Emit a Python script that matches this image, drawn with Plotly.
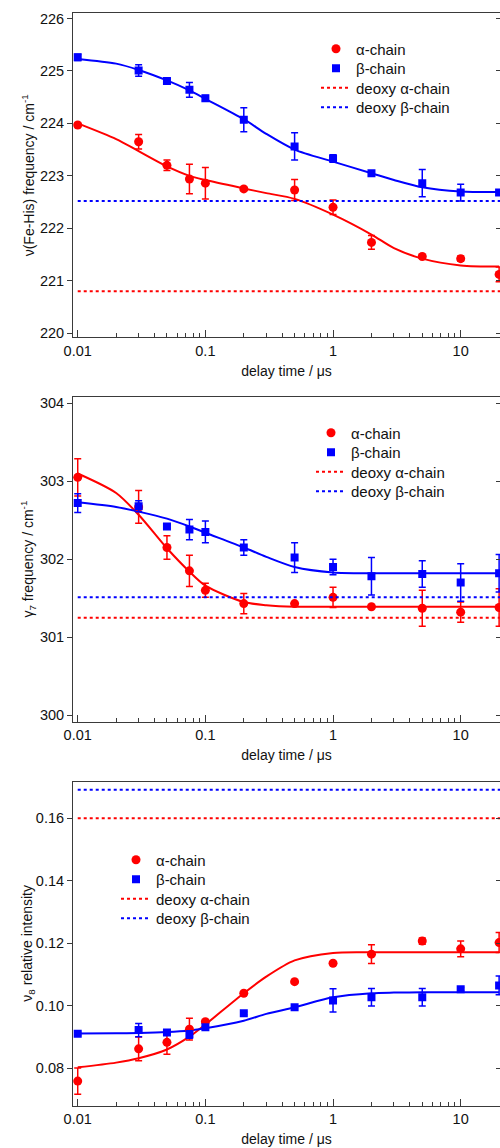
import plotly.graph_objects as go

# ---------------- data ----------------
delay = [0.01, 0.03, 0.05, 0.075, 0.1, 0.2, 0.5, 1, 2, 5, 10, 20]

# Panel 1: nu(Fe-His)
fe_alpha = [223.97, 223.65, 223.20, 222.94, 222.86, 222.75, 222.73, 222.40, 221.73, 221.46, 221.42, 221.12]
fe_alpha_err = [0.04, 0.14, 0.10, 0.28, 0.30, 0.03, 0.20, 0.14, 0.13, 0.03, 0.05, 0.14]
fe_beta = [225.26, 225.01, 224.81, 224.64, 224.48, 224.07, 223.56, 223.33, 223.05, 222.86, 222.68, 222.68]
fe_beta_err = [0.06, 0.11, 0.04, 0.14, 0.05, 0.23, 0.26, 0.07, 0.04, 0.26, 0.16, 0.05]
fe_deoxy_alpha = 220.80
fe_deoxy_beta = 222.52

fit_x = [0.01, 0.02, 0.03, 0.05, 0.075, 0.1, 0.2, 0.3, 0.5, 1, 2, 3, 5, 10, 20]
fe_fit_alpha = [224.00, 223.70, 223.47, 223.18, 223.00, 222.92, 222.76, 222.67, 222.56, 222.26, 221.88, 221.62, 221.42, 221.29, 221.27]
fe_fit_beta = [225.23, 225.14, 225.02, 224.82, 224.63, 224.47, 224.08, 223.80, 223.50, 223.27, 223.05, 222.92, 222.78, 222.70, 222.69]

# Panel 2: gamma7
g7_alpha = [303.05, 302.67, 302.15, 301.85, 301.60, 301.43, 301.43, 301.51, 301.39, 301.37, 301.32, 301.38]
g7_alpha_err = [0.24, 0.21, 0.15, 0.20, 0.09, 0.13, 0.02, 0.13, 0.02, 0.23, 0.13, 0.24]
g7_beta = [302.72, 302.68, 302.42, 302.38, 302.35, 302.15, 302.02, 301.90, 301.78, 301.81, 301.70, 301.82]
g7_beta_err = [0.12, 0.07, 0.02, 0.13, 0.14, 0.10, 0.19, 0.10, 0.24, 0.17, 0.24, 0.24]
g7_deoxy_alpha = 301.25
g7_deoxy_beta = 301.51

g7_fit_alpha = [303.10, 302.85, 302.57, 302.14, 301.84, 301.66, 301.45, 301.41, 301.39, 301.39, 301.39, 301.39, 301.39, 301.39, 301.39]
g7_fit_beta = [302.73, 302.67, 302.61, 302.52, 302.42, 302.34, 302.15, 302.03, 301.90, 301.83, 301.82, 301.82, 301.82, 301.82, 301.82]

# Panel 3: nu8 relative intensity
n8_alpha = [0.0759, 0.0862, 0.0883, 0.0925, 0.0949, 0.1040, 0.1077, 0.1136, 0.1165, 0.1207, 0.1182, 0.1202]
n8_alpha_err = [0.0042, 0.0038, 0.0038, 0.0035, 0.0005, 0.0003, 0.0003, 0.0003, 0.0030, 0.0010, 0.0025, 0.0032]
n8_beta = [0.0910, 0.0922, 0.0914, 0.0908, 0.0931, 0.0976, 0.0995, 0.1017, 0.1027, 0.1027, 0.1053, 0.1065]
n8_beta_err = [0.0005, 0.0021, 0.0005, 0.0012, 0.0005, 0.0005, 0.0005, 0.0037, 0.0028, 0.0028, 0.0005, 0.0030]
n8_deoxy_alpha = 0.1600
n8_deoxy_beta = 0.1691

n8_fit_alpha = [0.0803, 0.0818, 0.0832, 0.0860, 0.0901, 0.0940, 0.1040, 0.1093, 0.1145, 0.1169, 0.1171, 0.1171, 0.1171, 0.1171, 0.1171]
n8_fit_beta = [0.0911, 0.0912, 0.0913, 0.0916, 0.0921, 0.0928, 0.0952, 0.0974, 0.0995, 0.1027, 0.1040, 0.1042, 0.1043, 0.1043, 0.1043]

deoxy_x = [0.01, 22]

x_tickvals = [0.01, 0.1, 1, 10]
x_ticktext = ["0.01", "0.1", "1", "10"]
x_minor = [0.02, 0.03, 0.04, 0.05, 0.06, 0.07, 0.08, 0.09,
           0.2, 0.3, 0.4, 0.5, 0.6, 0.7, 0.8, 0.9,
           2, 3, 4, 5, 6, 7, 8, 9, 20]

legend_names = ["α-chain", "β-chain", "deoxy α-chain", "deoxy β-chain"]
x_title = "delay time / μs"

RED = "#FF0000"
BLUE = "#0000FF"
FONT = "Arial, Liberation Sans, sans-serif"
AX = "#3a3a3a"
W, H = 500, 1148
ML = 73

panels = [
    dict(a=fe_alpha, ae=fe_alpha_err, b=fe_beta, be=fe_beta_err, da=fe_deoxy_alpha, db=fe_deoxy_beta,
         fa=fe_fit_alpha, fb=fe_fit_beta, yrange=[219.92, 226.10], ytick=[220, 221, 222, 223, 224, 225, 226],
         ytext=["220", "221", "222", "223", "224", "225", "226"],
         ytitle="ν(Fe-His) frequency / cm<sup>-1</sup>", domain=[0.7062, 0.9884],
         leg_text_x=357, leg_rows=[49, 68.5, 88, 107.5]),
    dict(a=g7_alpha, ae=g7_alpha_err, b=g7_beta, be=g7_beta_err, da=g7_deoxy_alpha, db=g7_deoxy_beta,
         fa=g7_fit_alpha, fb=g7_fit_beta, yrange=[299.914, 304.077], ytick=[300, 301, 302, 303, 304],
         ytext=["300", "301", "302", "303", "304"],
         ytitle="γ<sub>7</sub> frequency / cm<sup>-1</sup>", domain=[0.3713, 0.6539],
         leg_text_x=352, leg_rows=[433, 452.5, 472, 491.5]),
    dict(a=n8_alpha, ae=n8_alpha_err, b=n8_beta, be=n8_beta_err, da=n8_deoxy_alpha, db=n8_deoxy_beta,
         fa=n8_fit_alpha, fb=n8_fit_beta, yrange=[0.0680, 0.1717], ytick=[0.08, 0.10, 0.12, 0.14, 0.16],
         ytext=["0.08", "0.10", "0.12", "0.14", "0.16"],
         ytitle="ν<sub>8</sub> relative intensity", domain=[0.0368, 0.3191],
         leg_text_x=157, leg_rows=[860, 879.5, 899, 918.5]),
]

fig = go.Figure()
layout = {}
annotations = []
leg_common = dict(font=dict(family=FONT, size=15, color="#111"), bgcolor="rgba(0,0,0,0)",
                  borderwidth=0, xanchor="left", yanchor="top", itemwidth=30)

for i, p in enumerate(panels):
    n = i + 1
    xa = "x" if n == 1 else f"x{n}"
    ya = "y" if n == 1 else f"y{n}"
    yr_num = n + 3
    yr = f"y{yr_num}"

    # one legend box per entry so row spacing can match the reference
    lg = []
    for k in range(4):
        idx = 4 * i + k + 1
        key = "legend" if idx == 1 else f"legend{idx}"
        lg.append(key)
        top_px = p["leg_rows"][k] - 16.5
        layout[key] = dict(x=(p["leg_text_x"] - 41 - ML) / (W - ML), y=1 - top_px / H, **leg_common)

    # deoxy reference lines (drawn on right-hand mirror axis)
    fig.add_trace(go.Scatter(x=deoxy_x, y=[p["da"], p["da"]], mode="lines", xaxis=xa, yaxis=yr,
                             line=dict(color=RED, width=2, dash="3px,3px"), name=legend_names[2],
                             legend=lg[2], hoverinfo="skip"))
    fig.add_trace(go.Scatter(x=deoxy_x, y=[p["db"], p["db"]], mode="lines", xaxis=xa, yaxis=yr,
                             line=dict(color=BLUE, width=2, dash="3px,3px"), name=legend_names[3],
                             legend=lg[3], hoverinfo="skip"))
    # fits
    fig.add_trace(go.Scatter(x=fit_x, y=p["fa"], mode="lines", xaxis=xa, yaxis=ya,
                             line=dict(color=RED, width=2, shape="spline", smoothing=0.8),
                             showlegend=False, hoverinfo="skip"))
    fig.add_trace(go.Scatter(x=fit_x, y=p["fb"], mode="lines", xaxis=xa, yaxis=ya,
                             line=dict(color=BLUE, width=2, shape="spline", smoothing=0.8),
                             showlegend=False, hoverinfo="skip"))
    # data
    fig.add_trace(go.Scatter(x=delay, y=p["a"], mode="markers", xaxis=xa, yaxis=ya, name=legend_names[0],
                             marker=dict(symbol="circle", size=9, color=RED),
                             error_y=dict(type="data", array=p["ae"], color=RED, thickness=1.5, width=3.5),
                             legend=lg[0]))
    fig.add_trace(go.Scatter(x=delay, y=p["b"], mode="markers", xaxis=xa, yaxis=ya, name=legend_names[1],
                             marker=dict(symbol="square", size=8, color=BLUE),
                             error_y=dict(type="data", array=p["be"], color=BLUE, thickness=1.5, width=3.5),
                             legend=lg[1]))

    xkey = "xaxis" if n == 1 else f"xaxis{n}"
    ykey = "yaxis" if n == 1 else f"yaxis{n}"
    layout[xkey] = dict(
        type="log", range=[-2.037, 1.308], anchor=ya, domain=[0, 1],
        tickmode="array", tickvals=x_tickvals, ticktext=x_ticktext,
        ticks="inside", ticklen=7, tickwidth=1, tickcolor=AX,
        minor=dict(tickmode="array", tickvals=x_minor, ticks="inside", ticklen=4, tickwidth=1, tickcolor=AX, showgrid=False),
        showline=True, linecolor=AX, linewidth=1, mirror=True,
        showgrid=False, zeroline=False, automargin=False,
        tickfont=dict(family=FONT, size=14.5, color="#111"),
        title=dict(text=x_title, font=dict(family=FONT, size=14, color="#111"), standoff=8),
    )
    layout[ykey] = dict(
        range=p["yrange"], domain=p["domain"], anchor=xa,
        tickmode="array", tickvals=p["ytick"], ticktext=p["ytext"],
        ticks="outside", ticklen=5, tickwidth=1, tickcolor=AX,
        showline=True, linecolor=AX, linewidth=1, mirror=True,
        showgrid=False, zeroline=False, automargin=False,
        tickfont=dict(family=FONT, size=14.5, color="#111"),
    )
    layout[f"yaxis{yr_num}"] = dict(
        range=p["yrange"], overlaying=ya, side="right", anchor=xa,
        tickmode="array", tickvals=p["ytick"], showticklabels=False,
        ticks="inside", ticklen=4, tickwidth=1, tickcolor=AX,
        showline=False, showgrid=False, zeroline=False, automargin=False,
    )
    # y-axis title as rotated text beside the axis
    annotations.append(dict(
        text=p["ytitle"], textangle=-90, showarrow=False,
        xref="paper", x=(28 - ML) / (W - ML), xanchor="center",
        yref="paper", y=sum(p["domain"]) / 2, yanchor="middle",
        font=dict(family=FONT, size=14, color="#111"),
    ))

fig.update_layout(
    width=W, height=H,
    margin=dict(l=ML, r=0, t=0, b=0),
    paper_bgcolor="white", plot_bgcolor="white",
    font=dict(family=FONT, color="#111"),
    annotations=annotations,
    **layout,
)

fig.write_html("out.html", config={"displayModeBar": False},
               post_script="document.body.style.margin='0';document.body.style.padding='0';")
